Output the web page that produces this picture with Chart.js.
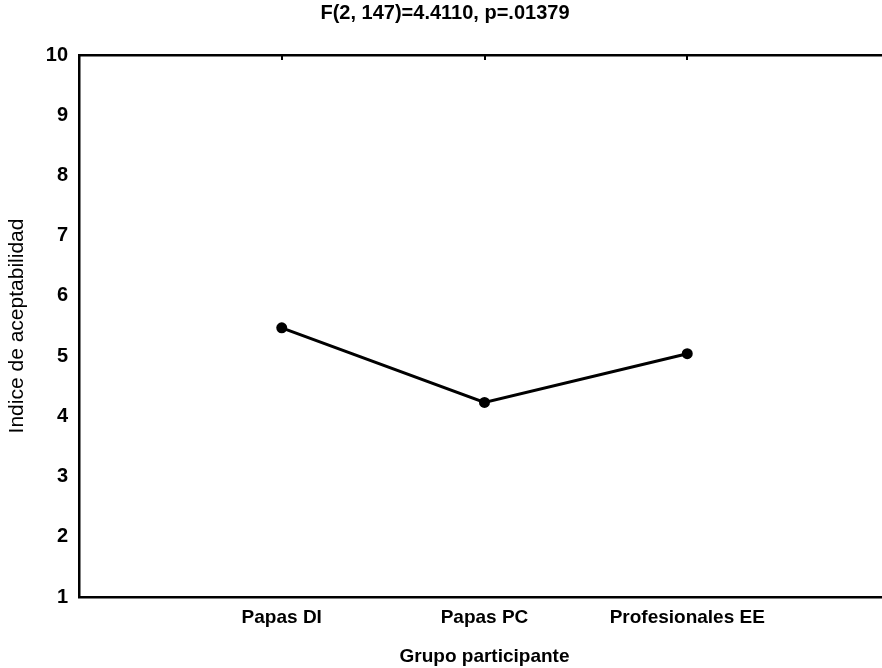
<!DOCTYPE html>
<html>
<head>
<meta charset="utf-8">
<script src="https://cdn.jsdelivr.net/npm/chart.js@4"></script>
<style>
  html, body { margin: 0; padding: 0; background: #fff; overflow: hidden; }
  #wrap { width: 900px; height: 668px; }
</style>
</head>
<body>
<div id="wrap"><canvas id="chart"></canvas></div>
<script>
const categories = ['Papas DI', 'Papas PC', 'Profesionales EE']
const meanValues = [5.47, 4.23, 5.04]
const yTicks = [1, 2, 3, 4, 5, 6, 7, 8, 9, 10]

const titleText = 'F(2, 147)=4.4110, p=.01379'
const xTitle = 'Grupo participante'
const yTitle = 'Indice de aceptabilidad'

const FONT = '"Liberation Sans", Arial, sans-serif'

const points = meanValues.map((v, i) => ({ x: i + 1, y: v }))

const ctx = document.getElementById('chart').getContext('2d')
const myChart = new Chart(ctx, {
    type: 'line',
    data: {
        datasets: [{
            data: points,
            borderColor: '#000',
            borderWidth: 3,
            backgroundColor: '#000',
            pointRadius: 5.5,
            pointBackgroundColor: '#000',
            pointBorderWidth: 0,
            tension: 0
        }]
    },
    options: {
        responsive: true,
        maintainAspectRatio: false,
        animation: false,
        layout: { padding: { left: 0, right: 10, top: 0, bottom: 0 } },
        plugins: {
            legend: { display: false },
            tooltip: { enabled: false },
            title: {
                display: true,
                text: titleText,
                color: '#000',
                font: { family: FONT, size: 20, weight: 'bold' },
                padding: { top: 1, bottom: 30 }
            }
        },
        scales: {
            x: {
                type: 'linear',
                min: 0,
                max: categories.length + 1,
                position: 'bottom',
                afterFit: (s) => { s.height = 71 },
                afterBuildTicks: (s) => { s.ticks = [0, 1, 2, 3, 4].map(v => ({ value: v })) },
                grid: { display: true, drawOnChartArea: false, drawTicks: false },
                border: { display: true, color: '#000', width: 2.5 },
                ticks: {
                    padding: 9,
                    color: '#000',
                    font: { family: FONT, size: 19, weight: 'bold' },
                    maxRotation: 0,
                    autoSkip: false,
                    callback: (v) => categories[v - 1] || ''
                },
                title: {
                    display: true,
                    text: xTitle,
                    color: '#000',
                    font: { family: FONT, size: 19, weight: 'bold' },
                    padding: { top: 0, bottom: 0 }
                }
            },
            x2: {
                type: 'linear',
                min: 0,
                max: categories.length + 1,
                position: 'top',
                afterFit: (s) => { s.height = 0 },
                afterBuildTicks: (s) => { s.ticks = categories.map((c, i) => ({ value: i + 1 })) },
                grid: { drawOnChartArea: false, drawTicks: true, tickLength: -5, color: '#000', lineWidth: 2 },
                border: { display: true, color: '#000', width: 2.5 },
                ticks: { display: false }
            },
            y: {
                min: 1,
                max: 10,
                afterFit: (s) => { s.width = 79 },
                afterBuildTicks: (s) => { s.ticks = yTicks.map(v => ({ value: v })) },
                grid: { drawOnChartArea: false, drawTicks: false },
                border: { display: true, color: '#000', width: 2.5 },
                ticks: {
                    padding: 11,
                    color: '#000',
                    font: { family: FONT, size: 20, weight: 'bold' }
                },
                title: {
                    display: true,
                    text: yTitle,
                    color: '#000',
                    font: { family: FONT, size: 21 },
                    padding: { top: 4.4, bottom: 0 }
                }
            }
        }
    }
})
</script>
</body>
</html>
